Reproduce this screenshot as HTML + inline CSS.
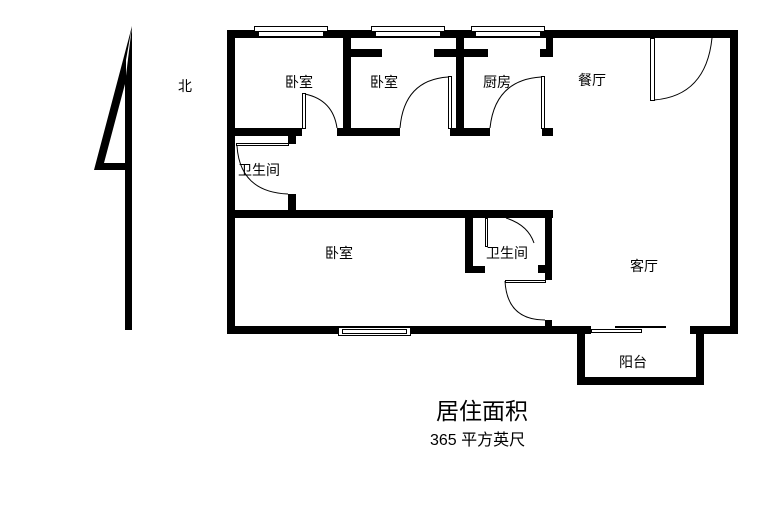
<!DOCTYPE html>
<html><head><style>body{margin:0;background:#fff}svg{display:block}text{font-family:"Liberation Sans","Noto Sans CJK SC",sans-serif;fill:#000}</style></head><body>
<svg width="766" height="511" viewBox="0 0 766 511" xmlns="http://www.w3.org/2000/svg">
<rect width="766" height="511" fill="#fff"/>
<polygon points="132,26 94,170 126,170 126,60" fill="#000"/>
<polygon points="125,84 104,163 125,163" fill="#fff"/>
<polygon points="132,26 125,84 125,330 132,330" fill="#000"/>
<text x="178" y="91" font-size="14">北</text>
<g fill="#000">
<rect x="227" y="30" width="511" height="8"/>
<rect x="227" y="30" width="8" height="304"/>
<rect x="730" y="30" width="8" height="304"/>
<rect x="227" y="326" width="364" height="8"/>
<rect x="690" y="326" width="48" height="8"/>
<rect x="577" y="326" width="8" height="59"/>
<rect x="696" y="326" width="8" height="59"/>
<rect x="577" y="377" width="127" height="8"/>
<rect x="343" y="30" width="8" height="106"/>
<rect x="456" y="30" width="8" height="106"/>
<rect x="546" y="30" width="7" height="27"/>
<rect x="540" y="49" width="13" height="8"/>
<rect x="351" y="49" width="31" height="8"/>
<rect x="434" y="49" width="54" height="8"/>
<rect x="235" y="128" width="67" height="8"/>
<rect x="288" y="128" width="8" height="16"/>
<rect x="337" y="128" width="63" height="8"/>
<rect x="450" y="128" width="40" height="8"/>
<rect x="542" y="128" width="11" height="8"/>
<rect x="227" y="210" width="326" height="8"/>
<rect x="288" y="194" width="8" height="16"/>
<rect x="465" y="210" width="8" height="63"/>
<rect x="465" y="266" width="20" height="7"/>
<rect x="545" y="210" width="7" height="70"/>
<rect x="538" y="265" width="14" height="8"/>
<rect x="545" y="320" width="7" height="7"/>
</g>
<g fill="#fff" stroke="#000" stroke-width="1">
<rect x="254.5" y="26.5" width="73" height="5"/><rect x="258.5" y="31.5" width="65" height="5"/>
<rect x="371.5" y="26.5" width="73" height="5"/><rect x="375.5" y="31.5" width="65" height="5"/>
<rect x="471.5" y="26.5" width="73" height="5"/><rect x="475.5" y="31.5" width="65" height="5"/>
<rect x="338.5" y="327.5" width="72" height="8"/><rect x="342.5" y="329.5" width="64" height="4"/>
<rect x="302.5" y="93.5" width="3" height="35"/>
<rect x="448.5" y="76.5" width="3" height="52"/>
<rect x="541.5" y="76.5" width="3" height="52"/>
<rect x="236.5" y="143.5" width="52" height="2"/>
<rect x="485.5" y="218.5" width="2" height="28"/>
<rect x="505.5" y="280.5" width="40" height="2"/>
<rect x="591.5" y="329.5" width="50" height="3"/>
<rect x="650.5" y="38.5" width="4" height="62"/>
</g>
<rect x="615" y="326" width="51" height="2" fill="#000"/>
<g fill="none" stroke="#000" stroke-width="1">
<path d="M305,94 Q333,100 337,128"/>
<path d="M448,77 Q404,80 400,128"/>
<path d="M541,77 Q495,80 490,128"/>
<path d="M237,146 Q240,192 288,194"/>
<path d="M505,281 Q507,320 545,320"/>
<path d="M506,218 Q528,225 534,243"/>
<path d="M654,100 Q706,96 712,38"/>
</g>
<g font-size="14">
<text x="285" y="87">卧室</text>
<text x="370" y="87">卧室</text>
<text x="483" y="87">厨房</text>
<text x="578" y="85">餐厅</text>
<text x="238" y="175">卫生间</text>
<text x="325" y="258">卧室</text>
<text x="486" y="258">卫生间</text>
<text x="630" y="271">客厅</text>
<text x="619" y="367">阳台</text>
</g>
<text x="436" y="419" font-size="23">居住面积</text>
<text x="430" y="445" font-size="16">365 平方英尺</text>
</svg>
</body></html>
